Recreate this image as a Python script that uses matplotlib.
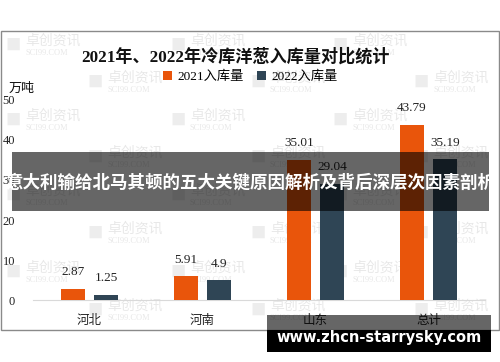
import matplotlib
matplotlib.use('Agg')
from matplotlib import pyplot as plt
from matplotlib.patches import Rectangle
import numpy as np

categories = ['河北', '河南', '山东', '总计']
values_2021 = [2.87, 5.91, 35.01, 43.79]
values_2022 = [1.25, 4.9, 29.04, 35.19]
series_names = ['2021入库量', '2022入库量']
y_ticks = [0, 10, 20, 30, 40, 50]

cjk = ['Noto Sans CJK SC', 'DejaVu Sans']
mixed = ['Liberation Serif', 'Noto Sans CJK SC']
orange = '#e9550b'
slate = '#2f4555'

fig = plt.figure(figsize=(5, 3.62), dpi=100)
fig.patch.set_facecolor('white')
ax = fig.add_axes([0.066, 0.171, 0.904, 0.553])
ax.set_facecolor('none')
ax.set_zorder(2)

# watermarks (faint, behind the chart)
wm_a = [(5, 45), (170, 45), (332, 45), (5, 120), (170, 120), (332, 120),
        (5, 195), (170, 195), (332, 195), (5, 272), (170, 272), (332, 272)]
wm_b = [(87, 82), (250, 82), (413, 82), (87, 157), (250, 157), (413, 157),
        (87, 233), (250, 233), (413, 233), (87, 310), (250, 310), (413, 310)]
for px, py in wm_a + wm_b:
    fx = px / 500
    fy = (362 - py) / 362
    fig.text(fx, fy, '■', fontsize=11, color='#ededed', va='center', ha='left',
             family=cjk, zorder=-1)
    fig.text(fx + 0.04, fy + 0.012, '卓创资讯', fontsize=10, color='#e8e8e8',
             va='center', ha='left', family=cjk, zorder=-1)
    fig.text(fx + 0.04, fy - 0.022, 'SCI99.COM', fontsize=6, color='#e8e8e8',
             va='center', ha='left', family='Liberation Serif', zorder=-1)

x = np.arange(len(categories))
off = 0.146
w = 0.22
b1 = ax.bar(x - off, values_2021, w, color=orange, label=series_names[0], zorder=3)
b2 = ax.bar(x + off, values_2022, w, color=slate, label=series_names[1], zorder=3)
for bars, vals in ((b1, values_2021), (b2, values_2022)):
    for rect, v in zip(bars, vals):
        ax.annotate(f'{v:g}', (rect.get_x() + rect.get_width() / 2, v),
                    xytext=(0, 12), textcoords='offset points', ha='center',
                    va='center', fontsize=9.5, family='Liberation Serif',
                    color='#222222', zorder=4)

ax.set_xlim(-0.5, 3.5)
ax.set_ylim(0, 50)
ax.set_yticks(y_ticks)
ax.set_yticklabels([str(t) for t in y_ticks], family='Liberation Serif', fontsize=9)
ax.set_xticks(x)
ax.set_xticklabels(categories, family=cjk, fontsize=9)
ax.tick_params(axis='both', length=0, colors='#222222')
ax.tick_params(axis='y', pad=13)
ax.tick_params(axis='x', pad=10)
for s in ['left', 'right', 'top']:
    ax.spines[s].set_visible(False)
ax.spines['bottom'].set_color('#d9d9d9')

fig.text(0.47, (362 - 57) / 362, '2021年、2022年冷库洋葱入库量对比统计',
         ha='center', va='center', fontsize=12.3, fontweight='bold', family=mixed,
         color='#111111', zorder=3)
ax.legend(loc='center', bbox_to_anchor=(0.5, (362 - 77) / 362), bbox_transform=fig.transFigure,
          ncol=2, frameon=False, prop={'family': mixed, 'size': 9.5},
          handlelength=0.7, handleheight=0.7, handletextpad=0.4, columnspacing=1.0)
fig.text(0.018, (362 - 88) / 362, '万吨', ha='left', va='center', fontsize=9.4,
         family=cjk, color='#111111', zorder=3)

# image border
fig.patches.append(Rectangle((0.002, 0.0884), 0.996, 0.826, transform=fig.transFigure,
                             fill=False, edgecolor='#8a8a8a', linewidth=1, zorder=1))

# overlay banner
fig.patches.append(Rectangle((0.024, 0.417), 0.954, 0.163, transform=fig.transFigure,
                             facecolor='black', alpha=0.6, edgecolor='none', zorder=10))
fig.text(0.5, 0.4945, '意大利输给北马其顿的五大关键原因解析及背后深层次因素剖析',
         ha='center', va='center', fontsize=12.6, fontweight='bold', family=cjk,
         color='white', zorder=11)

# bottom site banner
fig.patches.append(Rectangle((0.534, 0.0884), 0.448, 0.0414, transform=fig.transFigure,
                             facecolor='black', alpha=0.6, edgecolor='none', zorder=10))
fig.patches.append(Rectangle((0.534, 0.0276), 0.448, 0.0608, transform=fig.transFigure,
                             facecolor='black', edgecolor='none', zorder=10))
fig.text(0.758, 0.069, 'www.zhcn-starrysky.com', ha='center', va='center',
         fontsize=10.5, fontweight='bold', family='DejaVu Sans', color='white', zorder=11)

fig.savefig('out.png', dpi=100)
